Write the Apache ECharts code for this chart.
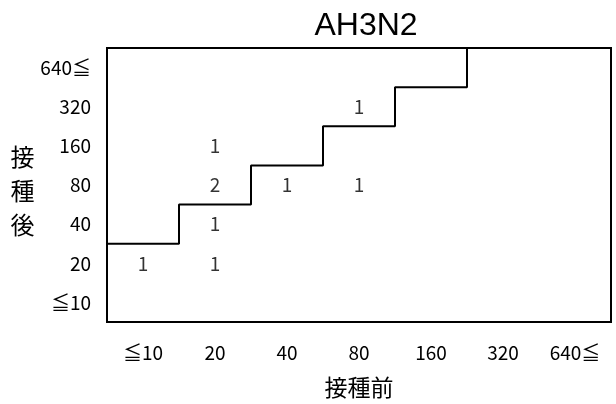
<!DOCTYPE html>
<html><head><meta charset="utf-8">
<script src="https://cdn.jsdelivr.net/npm/echarts@6/dist/echarts.min.js"></script>
<style>html,body{margin:0;padding:0;background:#fff}#c{width:616px;height:404px}</style>
</head><body><div id="c"></div>
<script>
const titleText = 'AH3N2';
const xCategories = ['≦10', '20', '40', '80', '160', '320', '640≦'];
const yCategories = ['≦10', '20', '40', '80', '160', '320', '640≦'];
// [x index, y index, count]
const counts = [[0,1,1],[1,1,1],[1,2,1],[1,3,2],[1,4,1],[2,3,1],[3,3,1],[3,5,1]];
// staircase boundary level (in row units from bottom) for each column
const stepLevels = [2, 3, 4, 5, 6, 7];

const stepPoints = [];
for (let i = 0; i < stepLevels.length - 1; i++) {
  stepPoints.push([i, stepLevels[i]]);
  stepPoints.push([i + 1, stepLevels[i]]);
}
stepPoints.push([stepLevels.length - 1, stepLevels[stepLevels.length - 1]]);

const jp = '"Noto Sans CJK JP", sans-serif';
const chart = echarts.init(document.getElementById('c'));
chart.setOption({
  animation: false,
  backgroundColor: '#fff',
  title: {
    text: titleText, left: 361, top: 5, textAlign: 'center',
    textStyle: { fontFamily: '"Liberation Sans", Arial, sans-serif', fontSize: 32, fontWeight: 'normal', color: '#000' }
  },
  grid: { left: 107, right: 5, top: 48, bottom: 79, show: true, borderColor: '#000', borderWidth: 2, backgroundColor: 'transparent' },
  xAxis: [{
    type: 'category', data: xCategories, boundaryGap: true,
    axisLine: { show: false }, axisTick: { show: false }, splitLine: { show: false },
    axisLabel: { color: '#000', fontSize: 19, fontFamily: jp, margin: 21 },
    name: '接種前', nameLocation: 'middle', nameGap: 54,
    nameTextStyle: { color: '#000', fontSize: 23, fontFamily: jp }
  }, {
    type: 'value', min: 0, max: 7, show: false
  }],
  yAxis: [{
    type: 'category', data: yCategories, boundaryGap: true,
    axisLine: { show: false }, axisTick: { show: false }, splitLine: { show: false },
    axisLabel: { color: '#000', fontSize: 19, fontFamily: jp, margin: 16 },
    name: '{p|}\n{c|接}\n{c|種}\n{c|後}', nameLocation: 'middle', nameRotate: 0, nameGap: 65,
    nameTextStyle: {
      color: '#000', fontSize: 24, fontFamily: jp,
      rich: {
        p: { lineHeight: 12, fontSize: 10 },
        c: { color: '#000', fontSize: 24, fontFamily: jp, lineHeight: 34 }
      }
    }
  }, {
    type: 'value', min: 0, max: 7, show: false
  }],
  series: [{
    type: 'line', xAxisIndex: 1, yAxisIndex: 1, data: stepPoints,
    symbol: 'none', lineStyle: { color: '#000', width: 2 }, silent: true
  }, {
    type: 'scatter', xAxisIndex: 0, yAxisIndex: 0,
    data: counts.map(c => [c[0], c[1], c[2]]),
    symbolSize: 1, itemStyle: { color: 'rgba(0,0,0,0)' },
    label: { show: true, position: 'inside', formatter: p => String(p.value[2]), color: '#000', fontSize: 19, fontFamily: jp }
  }]
});
</script></body></html>
